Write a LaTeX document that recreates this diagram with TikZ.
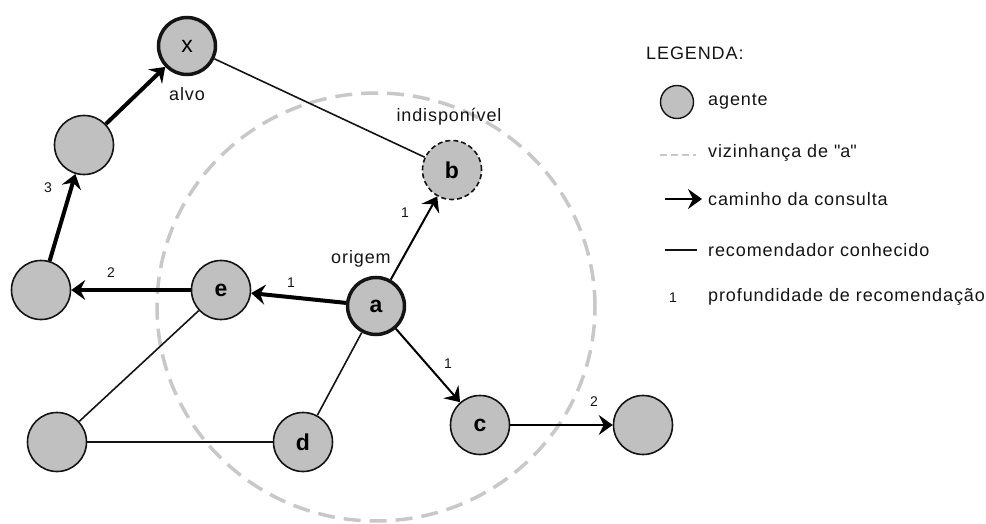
\documentclass[tikz,border=0pt]{standalone}
\usepackage{fontspec}
\setmainfont{Liberation Sans}
\usetikzlibrary{arrows.meta}
\definecolor{agentgray}{RGB}{192,192,192}
\definecolor{hoodgray}{RGB}{200,200,200}
\definecolor{ink}{RGB}{20,20,20}
\begin{document}
\begin{tikzpicture}[x=1pt,y=-1pt,
  agent/.style={circle,draw=ink,line width=1.6pt,fill=agentgray,minimum size=59pt,
    inner sep=0pt,font=\fontsize{23}{23}\selectfont\bfseries},
  keyagent/.style={agent,line width=3.5pt,minimum size=57pt},
  offline/.style={agent,dashed,dash pattern=on 5pt off 3pt},
  hood/.style={draw=hoodgray,line width=3.5pt,dash pattern=on 17pt off 9pt},
  known/.style={draw=ink,line width=1.6pt},
  tip/.style={-{Stealth[length=14pt,width=20pt,inset=5pt]}},
  query/.style={draw=black,line width=4pt,tip},
  hop/.style={draw=black,line width=2pt,tip},
  depth/.style={font=\fontsize{14}{14}\selectfont,text=ink,inner sep=0pt},
  tag/.style={font=\fontsize{18}{18}\selectfont\addfontfeature{LetterSpace=5},text=ink,inner sep=0pt},
  legtext/.style={tag,anchor=west}
]
\useasboundingbox (0,0) rectangle (986,524);

% neighbourhood of agent a
\draw[hood] (376,307) ellipse [x radius=219pt, y radius=214pt];

% agents
\node[keyagent] (x) at (187,46) {\mdseries x};
\node[agent] (u) at (84,145) {};
\node[agent] (l) at (41,290) {};
\node[agent] (e) at (221,290) {e};
\node[keyagent] (a) at (376,306) {a};
\node[offline] (b) at (452,170) {b};
\node[agent] (bl) at (57,442) {};
\node[agent] (d) at (303,442) {d};
\node[agent] (c) at (480,425) {c};
\node[agent] (r) at (643,425) {};

% known recommenders
\draw[known] (x) -- (b);
\draw[known] (a) -- (d);
\draw[known] (e) -- (bl);
\draw[known] (bl) -- (d);

% query path
\draw[query] (a) -- (e);
\draw[query] (e) -- (l);
\draw[query] (l) -- (u);
\draw[query] (u) -- (x);
\draw[hop] (a) -- (b);
\draw[hop] (a) -- (c);
\draw[hop] (c) -- (r);

% recommendation depth
\node[depth] (n1) at (405,213) {1};
\node[depth] (n2) at (291,283) {1};
\node[depth] (n3) at (111,273) {2};
\node[depth] (n4) at (48,188) {3};
\node[depth] (n5) at (448,364) {1};
\node[depth] (n6) at (594,402) {2};

% agent roles
\node[tag] (alvo) at (187,94) {alvo};
\node[tag] (orig) at (361,259) {origem};
\node[tag] (indisp) at (449,117) {indisponível};

% legend
\node[legtext] (leg) at (646,53) {LEGENDA:};
\node[agent,minimum size=33pt,line width=1.4pt] (lag) at (677,102) {};
\node[legtext] (lagt) at (708,102) {agente};
\coordinate (lh1) at (660,155);
\coordinate (lh2) at (696,155);
\draw[draw=hoodgray,line width=1.2pt,dash pattern=on 7pt off 4pt] (lh1) -- (lh2);
\node[legtext] (lht) at (708,153) {vizinhança de \textquotedbl a\textquotedbl};
\coordinate (lq1) at (665,199);
\coordinate (lq2) at (702,199);
\draw[draw=black,line width=2.5pt,tip] (lq1) -- (lq2);
\node[legtext] (lqt) at (708,199) {caminho da consulta};
\coordinate (lk1) at (665,250);
\coordinate (lk2) at (697,250);
\draw[known] (lk1) -- (lk2);
\node[legtext] (lkt) at (708,250) {recomendador conhecido};
\node[depth] (ld) at (673,298) {1};
\node[legtext] (ldt) at (708,297) {profundidade de recomendação};
\end{tikzpicture}
\end{document}
